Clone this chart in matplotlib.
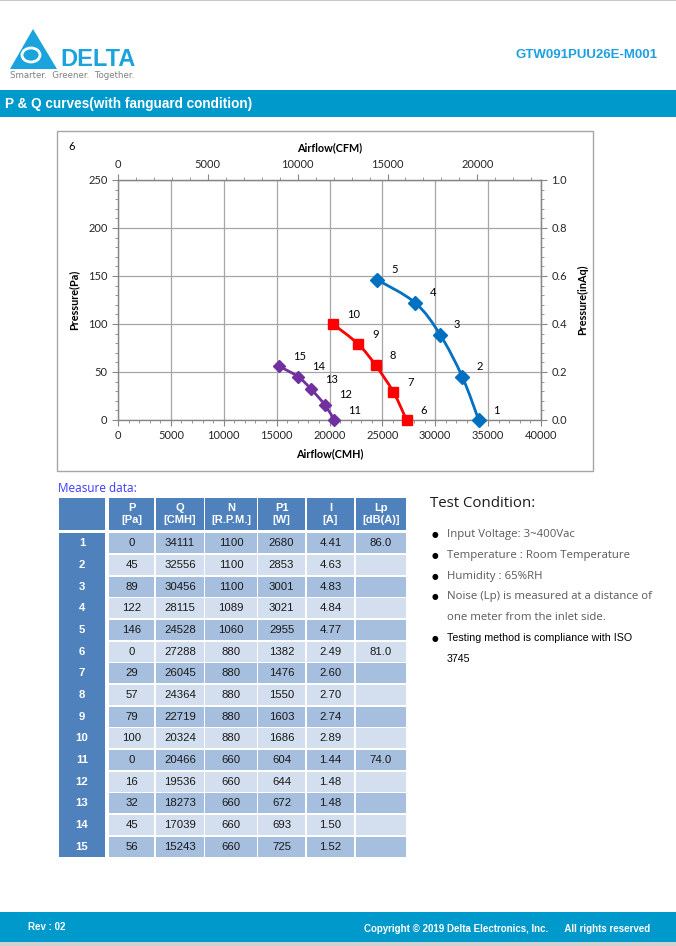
import matplotlib
matplotlib.use('Agg')
import matplotlib.pyplot as plt
import numpy as np
from matplotlib.patches import Rectangle, Polygon, Ellipse, PathPatch
from matplotlib.path import Path
from matplotlib.ticker import MultipleLocator, FormatStrFormatter

# ---- data (Measure data table) ----
point_no = list(range(1, 16))
p_pa = [0, 45, 89, 122, 146, 0, 29, 57, 79, 100, 0, 16, 32, 45, 56]
q_cmh = [34111, 32556, 30456, 28115, 24528, 27288, 26045, 24364, 22719, 20324,
         20466, 19536, 18273, 17039, 15243]
n_rpm = [1100, 1100, 1100, 1089, 1060, 880, 880, 880, 880, 880, 660, 660, 660, 660, 660]
p1_w = [2680, 2853, 3001, 3021, 2955, 1382, 1476, 1550, 1603, 1686, 604, 644, 672, 693, 725]
i_a = ['4.41', '4.63', '4.83', '4.84', '4.77', '2.49', '2.60', '2.70', '2.74', '2.89',
       '1.44', '1.48', '1.48', '1.50', '1.52']
lp_dba = ['86.0', '', '', '', '', '81.0', '', '', '', '', '74.0', '', '', '', '']
col_heads = ['P\n[Pa]', 'Q\n[CMH]', 'N\n[R.P.M.]', 'P1\n[W]', 'I\n[A]', 'Lp\n[dB(A)]']

curves = [(0, 5, '#0070C0', 'D', 7.5),
          (5, 10, '#FF0000', 's', 7.0),
          (10, 15, '#7030A0', 'D', 6.5)]

conditions = [['Input Voltage: 3~400Vac'],
              ['Temperature : Room Temperature'],
              ['Humidity : 65%RH'],
              ['Noise (Lp) is measured at a distance of', 'one meter from the inlet side.']]
last_condition = ['Testing method is compliance with ISO', '3745']

W, H = 676, 946
fig = plt.figure(figsize=(W / 100, H / 100), dpi=100)
fig.patch.set_facecolor('white')


def fx(x):
    return x / W


def fy(y):
    return 1 - y / H


def box(x0, y0, x1, y1, fc, ec='none', lw=0):
    fig.add_artist(Rectangle((fx(x0), fy(y1)), (x1 - x0) / W, (y1 - y0) / H,
                             transform=fig.transFigure, facecolor=fc,
                             edgecolor=ec, linewidth=lw))


def txt(x, y, s, **kw):
    fig.text(fx(x), fy(y), s, **kw)


BLUE_BAR = '#0099CC'
LOGO = '#1AA3DC'
AXF = 'Lato'

# ---- page header ----
box(0, 0, W, 1.5, '#C8C8C8')
fig.add_artist(Polygon([(fx(10), fy(69)), (fx(57), fy(69)), (fx(33), fy(29))],
                       closed=True, transform=fig.transFigure, facecolor=LOGO,
                       edgecolor='none'))
fig.add_artist(Ellipse((fx(31), fy(55)), 18 / W, 14 / H, angle=0,
                       transform=fig.transFigure, facecolor='none',
                       edgecolor='white', linewidth=2))
txt(60, 59, 'DELTA', fontsize=17, fontweight='bold', color=LOGO,
    family='Liberation Sans', va='center', ha='left')
txt(10, 75, 'Smarter.  Greener.  Together.', fontsize=6.2, color='#808080',
    family='DejaVu Sans', va='center', ha='left')
txt(657, 55, 'GTW091PUU26E-M001', fontsize=9.5, fontweight='bold',
    color='#1E9FE0', family='Liberation Sans', va='center', ha='right')

box(0, 90, W, 117, BLUE_BAR)
txt(5, 104, 'P & Q curves(with fanguard condition)', fontsize=9.8,
    fontweight='bold', color='white', family='Liberation Sans',
    va='center', ha='left')

# ---- chart ----
box(57, 131, 593, 471, 'none', ec='#A6A6A6', lw=1)
ax = fig.add_axes([fx(118), fy(420), (541 - 118) / W, 240 / H])
ax.set_xlim(0, 40000)
ax.set_ylim(0, 250)
ax.xaxis.set_major_locator(MultipleLocator(5000))
ax.xaxis.set_minor_locator(MultipleLocator(1000))
ax.yaxis.set_major_locator(MultipleLocator(50))
ax.yaxis.set_minor_locator(MultipleLocator(10))
ax.grid(True, which='major', color='#A6A6A6', linewidth=0.9)
ax.set_axisbelow(True)
for sp in ax.spines.values():
    sp.set_color('#868686')
    sp.set_linewidth(1.0)
tick_kw = dict(labelsize=8, colors='#868686', labelcolor='#262626')
ax.tick_params(which='major', length=4, direction='out', **tick_kw)
ax.tick_params(which='minor', length=2.5, direction='out', colors='#868686')
for lab in ax.get_xticklabels() + ax.get_yticklabels():
    lab.set_family(AXF)

sec_x = ax.secondary_xaxis('top', functions=(lambda v: v / 1.699, lambda v: v * 1.699))
sec_x.set_xticks([0, 5000, 10000, 15000, 20000])
sec_x.xaxis.set_minor_locator(MultipleLocator(1000))
sec_y = ax.secondary_yaxis('right', functions=(lambda v: v / 250.0, lambda v: v * 250.0))
sec_y.set_yticks([0.0, 0.2, 0.4, 0.6, 0.8, 1.0])
sec_y.yaxis.set_major_formatter(FormatStrFormatter('%.1f'))
sec_y.yaxis.set_minor_locator(MultipleLocator(0.04))
for sec in (sec_x, sec_y):
    for sp in sec.spines.values():
        sp.set_color('#868686')
    sec.tick_params(which='major', length=4, direction='out', **tick_kw)
    sec.tick_params(which='minor', length=2.5, direction='out', colors='#868686')
for lab in sec_x.get_xticklabels() + sec_y.get_yticklabels():
    lab.set_family(AXF)


def smooth_path(xs, ys):
    # Excel-like smoothed line: cubic Bezier through the data points
    pts = np.column_stack([xs, ys]).astype(float)
    n = len(pts)
    verts = [pts[0]]
    codes = [Path.MOVETO]
    for i in range(n - 1):
        p_prev = pts[i - 1] if i > 0 else pts[i]
        p_next2 = pts[i + 2] if i + 2 < n else pts[i + 1]
        c1 = pts[i] + (pts[i + 1] - p_prev) / 6.0
        c2 = pts[i + 1] - (p_next2 - pts[i]) / 6.0
        verts += [c1, c2, pts[i + 1]]
        codes += [Path.CURVE4] * 3
    return Path(verts, codes)


for start, stop, color, marker, ms in curves:
    xs = q_cmh[start:stop]
    ys = p_pa[start:stop]
    ax.add_patch(PathPatch(smooth_path(xs, ys), facecolor='none', edgecolor=color,
                           linewidth=2.0, zorder=3, clip_on=False))
    ax.plot(xs, ys, linestyle='none', marker=marker, markersize=ms, color=color,
            zorder=4, clip_on=False)
    for k in range(start, stop):
        ax.annotate(str(point_no[k]), (q_cmh[k], p_pa[k]), xytext=(14, 10),
                    textcoords='offset pixels', fontsize=8, family=AXF,
                    color='black', ha='left', va='center', annotation_clip=False)

txt(72, 147, '6', fontsize=8, family=AXF, va='center', ha='center')
txt(330, 148, 'Airflow(CFM)', fontsize=7.8, fontweight='bold', family=AXF,
    va='center', ha='center')
txt(330, 454, 'Airflow(CMH)', fontsize=7.8, fontweight='bold', family=AXF,
    va='center', ha='center')
txt(74, 300, 'Pressure(Pa)', fontsize=7.8, fontweight='bold', family=AXF,
    va='center', ha='center', rotation=90)
txt(583, 300, 'Pressure(inAq)', fontsize=7.8, fontweight='bold', family=AXF,
    va='center', ha='center', rotation=90)

# ---- measure data table ----
txt(58, 488, 'Measure data:', fontsize=8.5, color='#3A3AFF', family='Open Sans',
    va='center', ha='left')
HEAD = '#4F81BD'
DARK_ROW = '#A7BFDE'
LIGHT_ROW = '#D3DFEE'
idx_col = (59, 105)
cols = [(109, 154), (156, 204), (205, 257), (258, 305), (307, 354), (356, 406)]
head_top, head_bot = 498, 530
row_top0, row_pitch, row_h = 533.3, 21.67, 20.0

box(idx_col[0], head_top, idx_col[1], head_bot, HEAD)
for (c0, c1), head in zip(cols, col_heads):
    box(c0, head_top, c1, head_bot, HEAD)
    txt((c0 + c1) / 2, (head_top + head_bot) / 2, head, fontsize=8,
        fontweight='bold', color='white', family='Liberation Sans',
        va='center', ha='center', linespacing=1.2)

box(idx_col[0], row_top0, idx_col[1], row_top0 + 14 * row_pitch + row_h, HEAD)
for r in range(15):
    top = row_top0 + r * row_pitch
    mid = top + row_h / 2
    fc = DARK_ROW if r % 2 == 0 else LIGHT_ROW
    txt((idx_col[0] + idx_col[1]) / 2, mid, str(point_no[r]), fontsize=8.2,
        fontweight='bold', color='white', family='Liberation Sans',
        va='center', ha='center')
    values = [p_pa[r], q_cmh[r], n_rpm[r], p1_w[r], i_a[r], lp_dba[r]]
    for (c0, c1), v in zip(cols, values):
        box(c0, top, c1, top + row_h, fc)
        txt((c0 + c1) / 2, mid, str(v), fontsize=8.2, color='#1A1A1A',
            family='Liberation Sans', va='center', ha='center')

# ---- test condition ----
txt(430, 503, 'Test Condition:', fontsize=10.8, color='#1A1A1A',
    family='Open Sans', va='center', ha='left')
y = 535
for item in conditions:
    txt(435, y, '\u25cf', fontsize=5.5, color='black', family='DejaVu Sans',
        va='center', ha='center')
    for line in item:
        txt(447, y, line, fontsize=8.2, color='#595959', family='Open Sans',
            va='center', ha='left')
        y += 20.6
txt(435, y, '\u25cf', fontsize=5.5, color='black', family='DejaVu Sans',
    va='center', ha='center')
for line in last_condition:
    txt(447, y, line, fontsize=7.7, color='black', family='Liberation Sans',
        va='center', ha='left')
    y += 21

# ---- footer ----
box(0, 912, W, 942, BLUE_BAR)
box(0, 942, W, H, '#D0D0D0')
txt(28, 927, 'Rev : 02', fontsize=7, fontweight='bold', color='white',
    family='Liberation Sans', va='center', ha='left')
txt(650, 929, 'Copyright \u00a9 2019 Delta Electronics, Inc.      All rights reserved',
    fontsize=7, fontweight='bold', color='white', family='Liberation Sans',
    va='center', ha='right')

fig.savefig('out.png', dpi=100)
